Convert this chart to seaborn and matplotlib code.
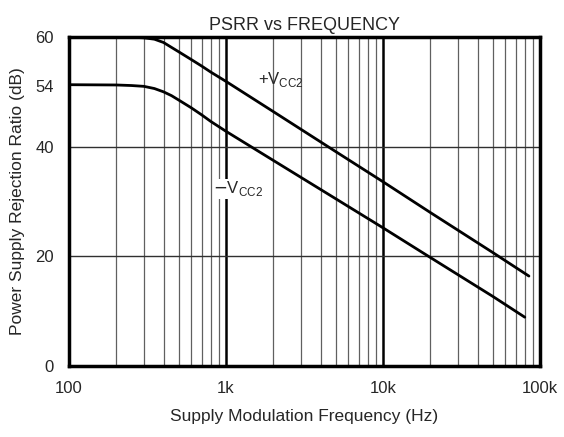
import numpy as np
import pandas as pd
import matplotlib
matplotlib.use("Agg")
import matplotlib.pyplot as plt
import seaborn as sns
from matplotlib.ticker import FixedLocator, NullFormatter

# values
freq_pos = [100, 200, 250, 300, 350, 400, 450, 500, 600, 700, 800, 1000, 2000, 5000, 10000, 20000, 50000, 85000]
psrr_pos = [60.0, 60.0, 59.95, 59.85, 59.6, 59.0, 58.1, 57.3, 55.9, 54.7, 53.6, 51.9, 46.4, 39.1, 33.6, 28.0, 20.7, 16.4]
freq_neg = [100, 200, 250, 300, 350, 400, 450, 500, 600, 700, 800, 1000, 2000, 5000, 10000, 20000, 50000, 80000]
psrr_neg = [51.3, 51.25, 51.15, 51.0, 50.6, 50.0, 49.3, 48.5, 47.1, 45.8, 44.6, 42.8, 37.5, 30.5, 25.2, 19.8, 12.7, 8.9]

x_ticks = [100, 1000, 10000, 100000]
x_labels = ["100", "1k", "10k", "100k"]
# the "54" label sits at the level of the -V flat part in the original
y_ticks = [0, 20, 40, 51, 60]
y_labels = ["0", "20", "40", "54", "60"]

df = pd.concat([
    pd.DataFrame({"f": freq_pos, "psrr": psrr_pos, "s": "+Vcc2"}),
    pd.DataFrame({"f": freq_neg, "psrr": psrr_neg, "s": "-Vcc2"}),
])

sns.set_style("white")
plt.rcParams["font.family"] = ["Liberation Sans", "DejaVu Sans"]

fig = plt.figure(figsize=(5.64, 4.37), dpi=100)
ax = fig.add_axes([69 / 564, 1 - 366 / 437, 471 / 564, 329 / 437])

# grid first, under the curves
minor = [m * 10 ** d for d in range(2, 5) for m in range(2, 10)]
for v in minor:
    ax.axvline(v, color="#606060", lw=0.9, zorder=1)
for v in [1000, 10000]:
    ax.axvline(v, color="black", lw=1.8, zorder=1)
for v in [20, 40]:
    ax.axhline(v, color="#303030", lw=1.0, zorder=1)

sns.lineplot(data=df, x="f", y="psrr", hue="s", palette=["black", "black"],
             linewidth=2.0, legend=False, ax=ax, zorder=3)

ax.set_xscale("log")
ax.set_xlim(100, 100000)
ax.set_ylim(0, 60)
ax.xaxis.set_major_locator(FixedLocator(x_ticks))
ax.set_xticklabels(x_labels)
ax.xaxis.set_minor_formatter(NullFormatter())
ax.set_yticks(y_ticks)
ax.set_yticklabels(y_labels)
ax.tick_params(axis="both", which="both", length=0, labelsize=12, pad=11)

for sp in ax.spines.values():
    sp.set_color("black")
    sp.set_linewidth(2.5)
    sp.set_zorder(5)

ax.set_title("PSRR vs FREQUENCY", fontsize=13, pad=5)
ax.set_xlabel("Supply Modulation Frequency (Hz)", fontsize=12.5, labelpad=9)
ax.set_ylabel("Power Supply Rejection Ratio (dB)", fontsize=12.5, labelpad=7)

ax.text(1600, 52.2, r"+V$_{\mathregular{CC2}}$", fontsize=12, ha="left", va="center", zorder=4)
ax.text(830, 32.3, r"$-$V$_{\mathregular{CC2}}$", fontsize=12, ha="left", va="center", zorder=4,
        bbox=dict(facecolor="white", edgecolor="none", pad=0.5))

fig.savefig("out.png", dpi=100)
